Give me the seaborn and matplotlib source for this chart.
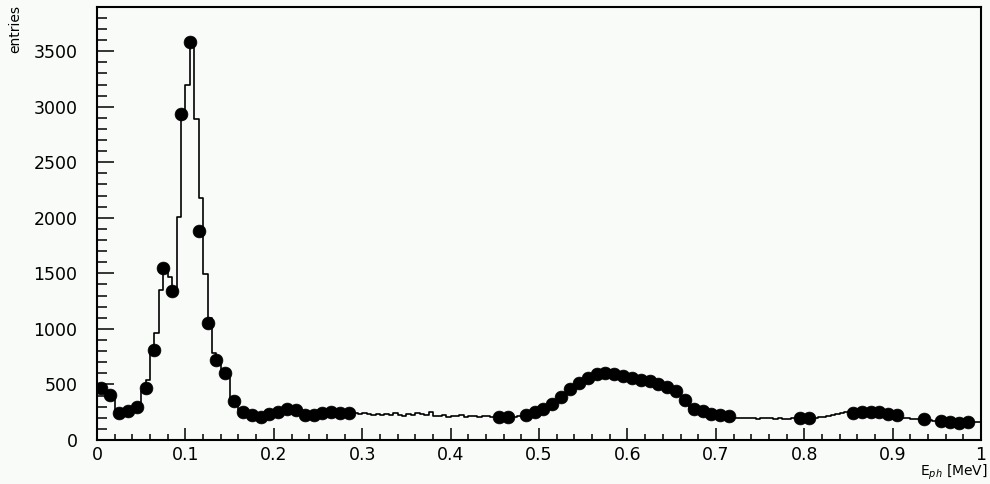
import numpy as np
import pandas as pd
import matplotlib.pyplot as plt
import seaborn as sns
from matplotlib.ticker import MultipleLocator

# step histogram, 200 bins of 0.005 MeV from 0 to 1
bin_centers = np.arange(200) * 0.005 + 0.0025
counts = [
    470, 455, 420, 395, 250, 240, 255, 265, 280, 300,
    440, 540, 780, 960, 1350, 1550, 1470, 1340, 2010, 2890,
    3200, 3580, 2890, 2180, 1490, 1100, 780, 720, 600, 560,
    370, 340, 270, 255, 240, 225, 215, 220, 235, 250,
    265, 280, 285, 285, 275, 255, 235, 225, 225, 235,
    245, 255, 255, 250, 245, 240, 240, 245, 240, 235,
    240, 232, 228, 236, 222, 230, 226, 240, 228, 218,
    234, 226, 242, 238, 228, 256, 220, 214, 222, 210,
    218, 212, 222, 208, 214, 220, 206, 212, 218, 210,
    205, 212, 214, 206, 208, 212, 220, 228, 240, 255,
    270, 290, 310, 330, 360, 395, 430, 465, 495, 525,
    550, 570, 585, 600, 605, 605, 600, 590, 575, 560,
    550, 545, 540, 540, 535, 525, 510, 500, 490, 470,
    445, 410, 375, 320, 280, 265, 250, 240, 228, 222,
    215, 212, 208, 204, 200, 198, 196, 194, 198, 192,
    196, 200, 194, 190, 196, 192, 188, 196, 190, 194,
    196, 198, 200, 204, 208, 214, 222, 232, 240, 248,
    250, 255, 258, 256, 252, 248, 240, 232, 226, 218,
    214, 206, 200, 196, 190, 186, 182, 180, 176, 172,
    168, 164, 160, 158, 156, 156, 158, 160, 162, 164,
]

# filled points drawn on top of the histogram
marker_x = [
    0.005, 0.015, 0.025, 0.035, 0.045, 0.055, 0.065, 0.075, 0.085, 0.095,
    0.105, 0.115, 0.125, 0.135, 0.145, 0.155, 0.165, 0.175, 0.185, 0.195,
    0.205, 0.215, 0.225, 0.235, 0.245, 0.255, 0.265, 0.275, 0.285,
    0.455, 0.465, 0.485, 0.495, 0.505, 0.515, 0.525, 0.535, 0.545, 0.555,
    0.565, 0.575, 0.585, 0.595, 0.605, 0.615, 0.625, 0.635, 0.645, 0.655,
    0.665, 0.675, 0.685, 0.695, 0.705, 0.715,
    0.795, 0.805, 0.855, 0.865, 0.875, 0.885, 0.895, 0.905,
    0.935, 0.955, 0.965, 0.975, 0.985,
]
marker_y = [
    465, 405, 245, 265, 295, 470, 810, 1550, 1345, 2935,
    3580, 1880, 1050, 718, 604, 350, 256, 228, 210, 230,
    255, 280, 268, 228, 222, 245, 252, 246, 240,
    210, 208, 222, 250, 280, 320, 385, 455, 515, 560,
    595, 605, 598, 575, 555, 540, 530, 505, 480, 440,
    360, 280, 262, 232, 222, 212,
    196, 198, 240, 252, 256, 250, 238, 225,
    190, 168, 160, 156, 158,
]

hist_df = pd.DataFrame({"energy": bin_centers, "entries": counts})

sns.set_style("ticks")
plt.rcParams["font.family"] = ["DejaVu Sans"]

bg = "#f8fbf8"
fig = plt.figure(figsize=(9.9, 4.84), dpi=100, facecolor=bg)
ax = fig.add_axes([0.098, 0.091, 0.893, 0.895], facecolor=bg)

sns.histplot(data=hist_df, x="energy", weights="entries", binwidth=0.005, binrange=(0, 1),
             element="step", fill=False, color="black", linewidth=1.2, ax=ax)
sns.scatterplot(x=marker_x, y=marker_y, color="black", marker="o", s=85,
                edgecolor="black", linewidth=0.5, zorder=3, ax=ax)

ax.set_xlim(0, 1)
ax.set_ylim(0, 3900)
ax.set_xlabel("")
ax.set_ylabel("")

ax.xaxis.set_major_locator(MultipleLocator(0.1))
ax.xaxis.set_minor_locator(MultipleLocator(0.02))
ax.yaxis.set_major_locator(MultipleLocator(500))
ax.yaxis.set_minor_locator(MultipleLocator(100))
ax.set_xticks(np.arange(0, 1.01, 0.1))
ax.set_xticklabels(["0", "0.1", "0.2", "0.3", "0.4", "0.5", "0.6", "0.7", "0.8", "0.9", "1"])

ax.tick_params(axis="both", which="both", direction="in", color="black", width=1.1,
               labelsize=12.5, labelcolor="black")
ax.tick_params(axis="y", which="major", length=12, pad=14)
ax.tick_params(axis="y", which="minor", length=7)
ax.tick_params(axis="x", which="major", length=9, pad=4)
ax.tick_params(axis="x", which="minor", length=4)

for side in ["left", "bottom", "top", "right"]:
    ax.spines[side].set_visible(True)
    ax.spines[side].set_color("black")
    ax.spines[side].set_linewidth(1.5)

fig.text(0.015, 0.99, "entries", rotation=90, ha="center", va="top", fontsize=10, color="black")
fig.text(0.998, 0.024, r"E$_{ph}$ [MeV]", ha="right", va="center", fontsize=10, color="black")

fig.savefig("out.png", dpi=100, facecolor=bg)
